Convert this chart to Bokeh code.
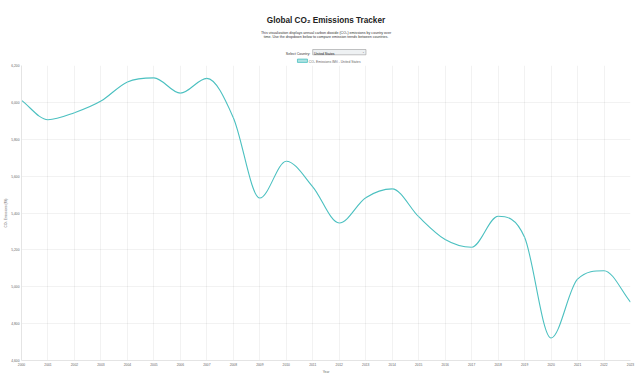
from bokeh.plotting import figure
from bokeh.layouts import column
from bokeh.models import NumeralTickFormatter, FixedTicker, Range1d
from bokeh.core.properties import value
from bokeh.embed import file_html
from bokeh.resources import INLINE

# ---- data ----
years = list(range(2000, 2024))
emissions = [6011, 5906, 5944, 6007, 6111, 6133, 6050, 6130, 5917, 5481, 5681, 5542,
             5346, 5483, 5531, 5380, 5256, 5214, 5382, 5268, 4722, 5041, 5087, 4917]
country = "United States"
y_ticks = list(range(4600, 6201, 200))
y_min, y_max = 4600, 6200

title_text = "Global CO\u2082 Emissions Tracker"
desc_1 = "This visualization displays annual carbon dioxide (CO\u2082) emissions by country over"
desc_2 = "time. Use the dropdown below to compare emission trends between countries."
select_label = "Select Country:"
series_label = "CO\u2082 Emissions (Mt) - " + country

FONT = "Liberation Sans"
TEAL = "#4bc0c0"
W = 640
HEAD_H = 63
MAIN_H = 377 - HEAD_H

# ---- header (title, description, selector, legend) ----
head = figure(width=W, height=HEAD_H, output_backend="svg", toolbar_location=None,
              x_range=Range1d(0, W), y_range=Range1d(HEAD_H, 0),
              x_axis_type=None, y_axis_type=None, min_border=0)
head.outline_line_color = None
head.xgrid.visible = False
head.ygrid.visible = False
head.title.visible = False

def txt(x, y, s, size, color, align="center", style="normal", font=FONT):
    head.text(x=[x], y=[y], text=[s], text_font=value(font), text_font_size=value(size),
              text_font_style=style, text_color=color, text_align=align,
              text_baseline="alphabetic")

txt(320, 20, title_text, "8.2px", "#222222", style="bold")
txt(320, 32, desc_1, "3.6px", "#333333")
txt(320, 36.6, desc_2, "3.6px", "#333333")
txt(303.5, 53, select_label, "3.6px", "#333333", align="right")
head.quad(left=[306], right=[362], top=[49], bottom=[54.3], fill_color="#eef1f3",
          line_color="#9a9a9a", line_width=0.6)
txt(307.5, 53, country, "3.4px", "#222222", align="left")
txt(359.3, 53.2, "\u02c5", "3.6px", "#444444", font="DejaVu Sans")
head.quad(left=[290], right=[300.5], top=[58.6], bottom=[61.9], fill_color=TEAL,
          fill_alpha=0.45, line_color=TEAL, line_width=0.8)
txt(302, 61.6, series_label, "3.3px", "#666666", align="left")

# ---- main chart ----
p = figure(width=W, height=MAIN_H, output_backend="svg", toolbar_location=None,
           x_range=Range1d(years[0], years[-1]), y_range=Range1d(y_min, y_max),
           min_border_left=21, min_border_right=10, min_border_top=2, min_border_bottom=17)
p.title.visible = False
p.outline_line_color = None
p.background_fill_color = "white"
p.border_fill_color = "white"

p.xaxis.ticker = FixedTicker(ticks=years)
p.yaxis.ticker = FixedTicker(ticks=y_ticks)
p.yaxis.formatter = NumeralTickFormatter(format="0,0")
for ax in (p.xaxis[0], p.yaxis[0]):
    ax.major_label_text_font = FONT
    ax.major_label_text_font_size = "3.3px"
    ax.major_label_text_color = "#666666"
    ax.axis_label_text_font = FONT
    ax.axis_label_text_font_size = "3.3px"
    ax.axis_label_text_color = "#666666"
    ax.axis_label_text_font_style = "normal"
    ax.major_tick_out = 0
    ax.major_tick_in = 0
    ax.minor_tick_out = 0
    ax.minor_tick_in = 0
    ax.major_label_standoff = 2
    ax.axis_label_standoff = 1
    ax.axis_line_color = "#e4e4e4"
    ax.axis_line_width = 1
p.xaxis.axis_label = "Year"
p.yaxis.axis_label = "CO\u2082 Emissions (Mt)"

p.xgrid.ticker = FixedTicker(ticks=years)
p.ygrid.ticker = FixedTicker(ticks=y_ticks)
for g in (p.xgrid[0], p.ygrid[0]):
    g.grid_line_color = "#000000"
    g.grid_line_alpha = 0.05
    g.grid_line_width = 1

# ---- monotone cubic curve through the data (Chart.js 'monotone' mode) ----
n = len(years)
delta = [(emissions[i + 1] - emissions[i]) / (years[i + 1] - years[i]) for i in range(n - 1)]

def sgn(v):
    return (v > 0) - (v < 0)

m = []
for i in range(n):
    if i == 0:
        m.append(delta[0])
    elif i == n - 1:
        m.append(delta[n - 2])
    elif sgn(delta[i - 1]) != sgn(delta[i]):
        m.append(0.0)
    else:
        m.append((delta[i - 1] + delta[i]) / 2)
for i in range(n - 1):
    if abs(delta[i]) < 1e-9:
        m[i] = m[i + 1] = 0.0
        continue
    a = m[i] / delta[i]
    b = m[i + 1] / delta[i]
    sq = a * a + b * b
    if sq <= 9:
        continue
    tau = 3 / sq ** 0.5
    m[i] = a * tau * delta[i]
    m[i + 1] = b * tau * delta[i]

x0, y0, x1, y1, cx0, cy0, cx1, cy1 = [], [], [], [], [], [], [], []
for i in range(n - 1):
    dx = (years[i + 1] - years[i]) / 3
    x0.append(years[i]); y0.append(emissions[i])
    x1.append(years[i + 1]); y1.append(emissions[i + 1])
    cx0.append(years[i] + dx); cy0.append(emissions[i] + dx * m[i])
    cx1.append(years[i + 1] - dx); cy1.append(emissions[i + 1] - dx * m[i + 1])

p.bezier(x0=x0, y0=y0, x1=x1, y1=y1, cx0=cx0, cy0=cy0, cx1=cx1, cy1=cy1,
         line_color=TEAL, line_width=1.1)

layout = column(head, p, spacing=0)
open("out.html", "w").write(file_html(layout, INLINE))
